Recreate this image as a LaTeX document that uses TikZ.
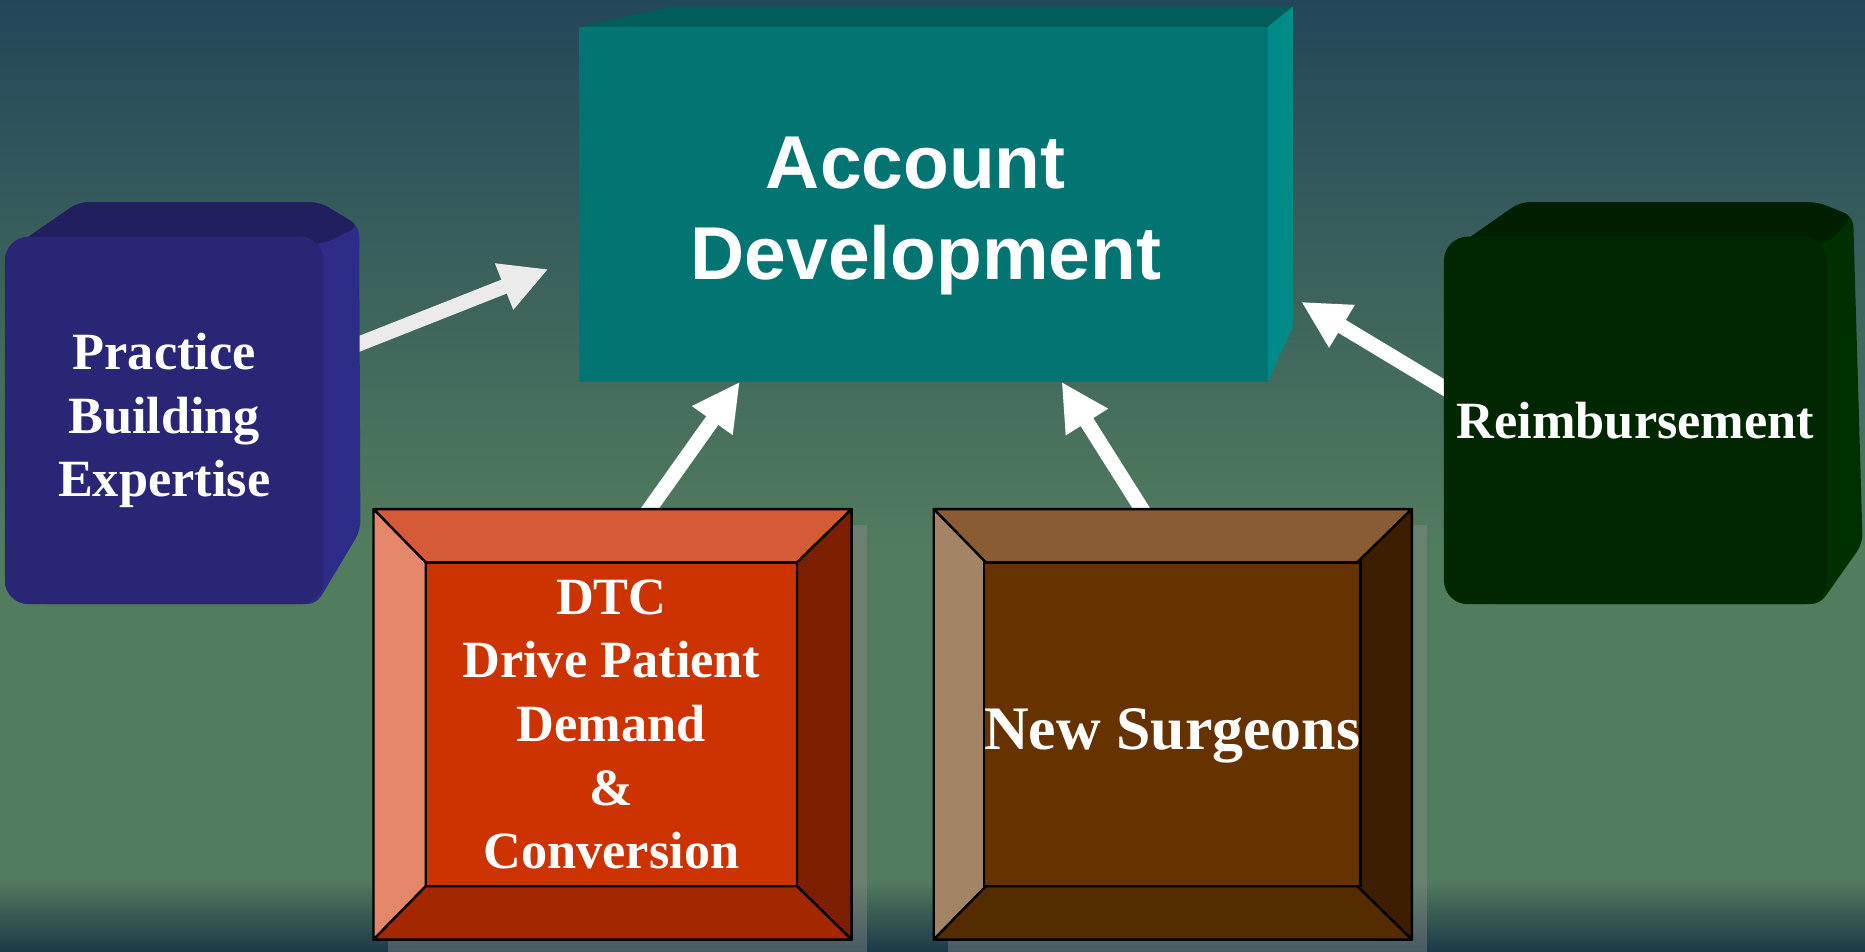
\documentclass[tikz,border=0pt]{standalone}
\usepackage{fontspec}
\setmainfont{Liberation Serif}
\newfontfamily\arialfont{Liberation Sans}
\usepackage{tikz}
\usetikzlibrary{positioning}
\usetikzlibrary{arrows.meta}
\usetikzlibrary{calc}

\definecolor{bgtop}{RGB}{36,70,90}
\definecolor{bgmid}{RGB}{82,124,94}
\definecolor{bgbot}{RGB}{28,58,72}
\definecolor{acfront}{RGB}{2,117,114}
\definecolor{actop}{RGB}{0,93,91}
\definecolor{acside}{RGB}{0,139,137}
\definecolor{pbfront}{RGB}{41,39,117}
\definecolor{pbtop}{RGB}{33,31,94}
\definecolor{pbside}{RGB}{45,44,136}
\definecolor{rbfront}{RGB}{0,39,0}
\definecolor{rbtop}{RGB}{0,30,0}
\definecolor{rbside}{RGB}{0,48,0}
\definecolor{dtctop}{RGB}{213,91,54}
\definecolor{dtcleft}{RGB}{227,134,106}
\definecolor{dtcright}{RGB}{123,31,0}
\definecolor{dtcbot}{RGB}{163,40,0}
\definecolor{dtcmid}{RGB}{204,51,0}
\definecolor{nstop}{RGB}{138,92,52}
\definecolor{nsleft}{RGB}{163,132,101}
\definecolor{nsright}{RGB}{61,31,0}
\definecolor{nsbot}{RGB}{85,43,0}
\definecolor{nsmid}{RGB}{102,51,0}
\definecolor{arrowgrey}{RGB}{235,235,235}

\newcommand{\cubefont}{\fontsize{44}{53.5}\selectfont\bfseries}
\newcommand{\titlefont}{\arialfont\fontsize{63}{76}\selectfont\bfseries}

\tikzstyle{face}=[rectangle,inner sep=0pt,outer sep=0pt,text=white,align=center]
\tikzstyle{softface}=[face,rounded corners=20pt,font=\cubefont]
\tikzstyle{bevelface}=[face,draw=black,line width=2pt,font=\cubefont]
\tikzstyle{bevelside}=[draw=black,line width=2pt,line join=round]
\tikzstyle{dropshadow}=[fill=black!45!white,opacity=0.4]
\tikzstyle{bigarrow}=[draw,line width=12.5pt,shorten <=-8pt,-{Triangle[length=40pt,width=39pt]}]

\pgfdeclarelayer{back}
\pgfdeclarelayer{arrowlayer}
\pgfsetlayers{back,arrowlayer,main}

\begin{document}
\begin{tikzpicture}[x=1pt,y=-1pt]
    \useasboundingbox (0,0) rectangle (1568,800);

    \begin{pgfonlayer}{back}
        \shade[top color=bgtop,bottom color=bgmid] (0,0) rectangle (1568,460);
        \fill[bgmid] (0,459) rectangle (1568,740);
        \shade[top color=bgmid,bottom color=bgbot] (0,739) rectangle (1568,800);
    \end{pgfonlayer}

    % account development
    \fill[actop] (487,22.5) -- (565,5.5) -- (1087,5.5) -- (1066,22.5) -- cycle;
    \fill[acside] (1066,22.5) -- (1087,5.5) -- (1087,275) -- (1066,321) -- cycle;
    \node[face,fill=acfront,minimum width=579pt,minimum height=298.5pt] (account) at (776.5,171.75) {};
    \node[text=white,align=center,font=\titlefont] (actitle) at ([xshift=2pt,yshift=-10pt]account.center) {Account\kern17pt\\Development};

    % rounded cubes
    \fill[pbside,rounded corners=8pt] (8,210) -- (66,170) -- (269,170) -- (302,190) -- (303,446) -- (266,508) -- (30,508) -- cycle;
    \fill[pbtop,rounded corners=8pt] (8,210) -- (66,170) -- (269,170) -- (302,190) -- (272,205) -- (20,205) -- cycle;
    \node[softface,fill=pbfront,minimum width=268pt,minimum height=309pt] (practice) at (138,353.5) {Practice\\Building\\Expertise};

    \fill[rbside,rounded corners=8pt] (1218,212) -- (1278,170) -- (1528,170) -- (1558,182) -- (1566,457) -- (1530,508) -- (1250,508) -- cycle;
    \fill[rbtop,rounded corners=8pt] (1218,212) -- (1278,170) -- (1528,170) -- (1558,182) -- (1536,205) -- (1230,205) -- cycle;
    \node[softface,fill=rbfront,minimum width=322pt,minimum height=309pt] (reimb) at (1375,353.5) {Reimbursement};

    % bevelled frames
    \foreach \bx/\nm/\ct/\cl/\cr/\cb in {314/dtc/dtctop/dtcleft/dtcright/dtcbot, 785/ns/nstop/nsleft/nsright/nsbot} {
        \fill[dropshadow] (\bx+12,441) rectangle (\bx+415,800);
        \node[face,minimum width=402pt,minimum height=362pt] (\nm) at (\bx+201,609) {};
        \path[bevelside,fill=\ct] (\bx,428) -- (\bx+402,428) -- (\bx+356,473) -- (\bx+44,473) -- cycle;
        \path[bevelside,fill=\cl] (\bx,428) -- (\bx+44,473) -- (\bx+44,745) -- (\bx,790) -- cycle;
        \path[bevelside,fill=\cr] (\bx+402,428) -- (\bx+402,790) -- (\bx+356,745) -- (\bx+356,473) -- cycle;
        \path[bevelside,fill=\cb] (\bx,790) -- (\bx+44,745) -- (\bx+356,745) -- (\bx+402,790) -- cycle;
    }
    \node[bevelface,fill=dtcmid,minimum width=312pt,minimum height=272pt] (dtcface) at (514,609) {DTC\\Drive Patient\\Demand\\\&\\Conversion};
    \node[bevelface,fill=nsmid,minimum width=313pt,minimum height=272pt,font=\fontsize{52}{60}\selectfont\bfseries,text height=42pt,text depth=0pt] (nsface) at (985.5,609) {New Surgeons};

    % arrows into account development
    \begin{pgfonlayer}{arrowlayer}
        \path[bigarrow,draw=arrowgrey] (practice) -- ([xshift=-26pt,yshift=-54.5pt]account.west);
        \path[bigarrow,draw=white] ([xshift=31pt]dtc.north) -- ([xshift=-154.5pt]account.south);
        \path[bigarrow,draw=white] ([xshift=-26pt]ns.north) -- ([xshift=116pt]account.south);
        \path[bigarrow,draw=white] ([yshift=27.5pt]reimb.west) -- ([xshift=28pt,yshift=-82pt]account.east);
    \end{pgfonlayer}

\end{tikzpicture}
\end{document}
